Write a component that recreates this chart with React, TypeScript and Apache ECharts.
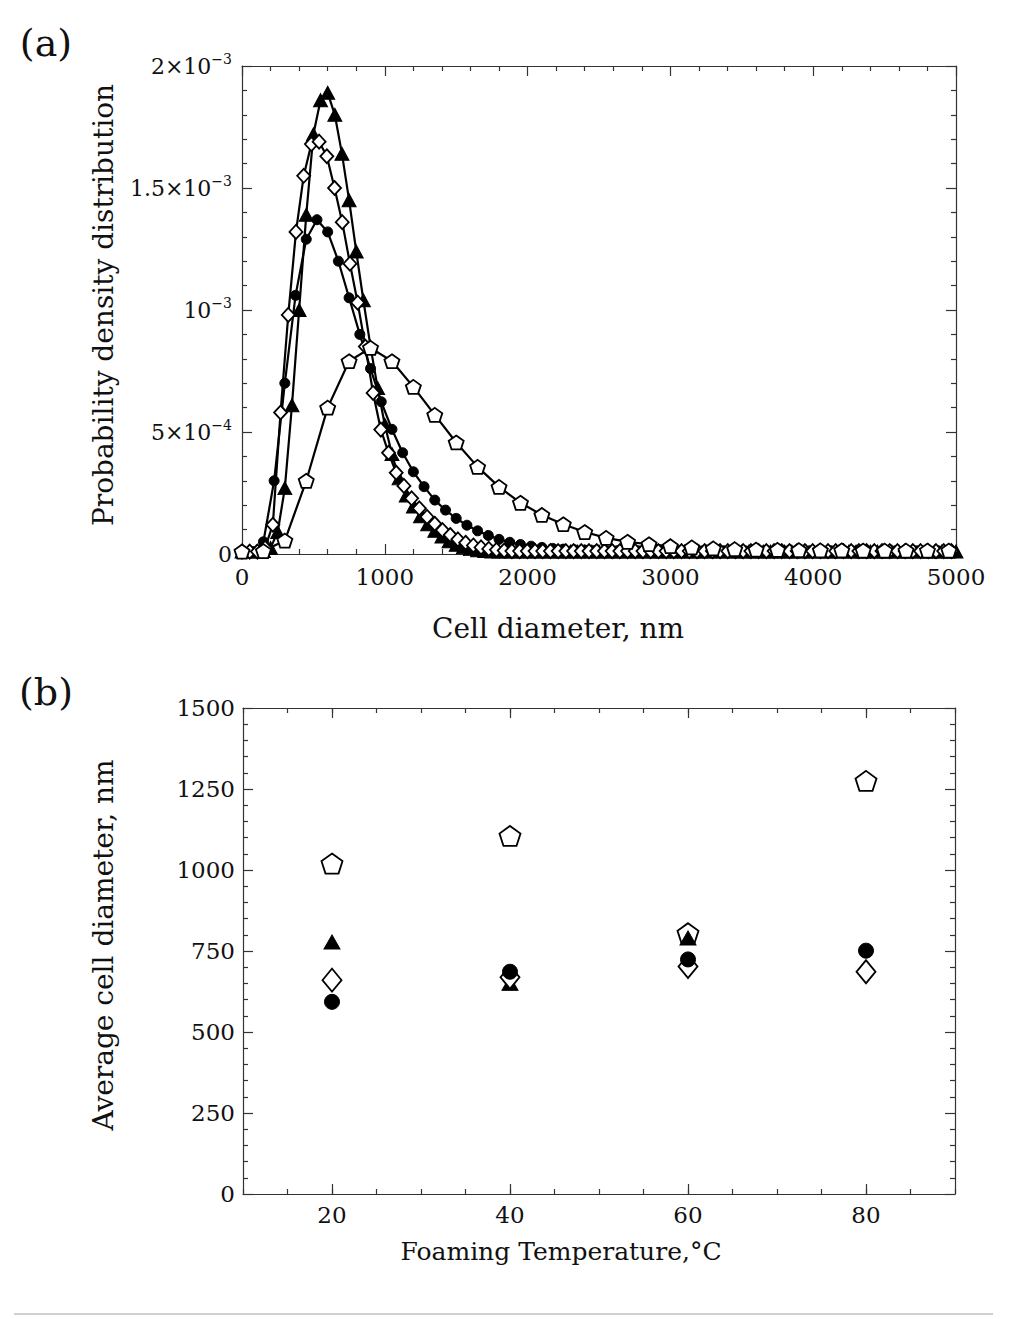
import React, { useEffect, useRef } from 'react';
import * as echarts from 'echarts';

const FONT = "'DejaVu Serif', serif";

// ---------- Panel (a): probability density, values in units of 1e-4 ----------
const triX = [0, 50, 100, 150, 200, 250, 300, 350, 400, 450, 500, 550, 600, 650, 700, 750, 800, 850, 900, 950,
  1000, 1050, 1100, 1150, 1200, 1250, 1300, 1350, 1400, 1450, 1500, 1550, 1600, 1650, 1700, 1750, 1800, 1850, 1900, 1950,
  2000, 2050, 2100, 2150, 2200, 2250, 2300, 2350, 2400, 2450, 2500, 2550, 2600, 2650, 2700, 2750, 2800, 2850, 2900, 2950,
  3000, 3050, 3100, 3150, 3200, 3250, 3300, 3350, 3400, 3450, 3500, 3550, 3600, 3650, 3700, 3750, 3800, 3850, 3900, 3950,
  4000, 4050, 4100, 4150, 4200, 4250, 4300, 4350, 4400, 4450, 4500, 4550, 4600, 4650, 4700, 4750, 4800, 4850, 4900, 4950, 5000];
const triY = [0.1, 0.1, 0.1, 0.12, 0.25, 0.9, 2.7, 6.1, 10.0, 13.9, 17.2, 18.6, 18.9, 18.0, 16.4, 14.5, 12.4, 10.4, 8.5, 6.8,
  5.3, 4.1, 3.1, 2.4, 1.95, 1.55, 1.22, 0.95, 0.72, 0.52, 0.38, 0.28, 0.2, 0.15, 0.12, 0.1, 0.1, 0.1, 0.1, 0.1,
  0.1, 0.1, 0.1, 0.1, 0.1, 0.1, 0.1, 0.1, 0.1, 0.1, 0.1, 0.1, 0.1, 0.1, 0.1, 0.1, 0.1, 0.1, 0.1, 0.1,
  0.1, 0.1, 0.1, 0.1, 0.1, 0.1, 0.1, 0.1, 0.1, 0.1, 0.1, 0.1, 0.1, 0.1, 0.1, 0.1, 0.1, 0.1, 0.1, 0.1,
  0.1, 0.1, 0.1, 0.1, 0.1, 0.1, 0.1, 0.1, 0.1, 0.1, 0.1, 0.1, 0.1, 0.1, 0.1, 0.1, 0.1, 0.1, 0.1, 0.1, 0.1];

const diaX = [0, 54, 108, 162, 216, 270, 324, 378, 432, 486, 540, 594, 648, 702, 756, 810, 864, 918, 972, 1026,
  1080, 1134, 1188, 1242, 1296, 1350, 1404, 1458, 1512, 1566, 1620, 1674, 1728, 1782, 1836, 1890, 1944, 1998, 2052, 2106,
  2160, 2214, 2268, 2322, 2376, 2430, 2484, 2538, 2592, 2646, 2700, 2754, 2808, 2862, 2916, 2970, 3024, 3078, 3132, 3186,
  3240, 3294, 3348, 3402, 3456, 3510, 3564, 3618, 3672, 3726, 3780, 3834, 3888, 3942, 3996, 4050, 4104, 4158, 4212, 4266,
  4320, 4374, 4428, 4482, 4536, 4590, 4644, 4698, 4752, 4806, 4860, 4914, 4968];
const diaY = [0.1, 0.1, 0.1, 0.25, 1.2, 5.8, 9.8, 13.2, 15.5, 16.8, 16.9, 16.3, 15.0, 13.6, 11.9, 10.3, 8.5, 6.6, 5.1, 4.15,
  3.33, 2.79, 2.28, 1.87, 1.52, 1.24, 0.98, 0.78, 0.6, 0.46, 0.35, 0.27, 0.21, 0.17, 0.14, 0.12, 0.12, 0.12, 0.12, 0.12,
  0.12, 0.12, 0.12, 0.12, 0.12, 0.12, 0.12, 0.12, 0.12, 0.12, 0.12, 0.12, 0.12, 0.12, 0.12, 0.12, 0.12, 0.12, 0.12, 0.12,
  0.12, 0.12, 0.12, 0.12, 0.12, 0.12, 0.12, 0.12, 0.12, 0.12, 0.12, 0.12, 0.12, 0.12, 0.12, 0.12, 0.12, 0.12, 0.12, 0.12,
  0.12, 0.12, 0.12, 0.12, 0.12, 0.12, 0.12, 0.12, 0.12, 0.12, 0.12, 0.12, 0.12];

const cirX = [0, 75, 150, 225, 300, 375, 450, 525, 600, 675, 750, 825, 900, 975, 1050, 1125, 1200, 1275, 1350, 1425,
  1500, 1575, 1650, 1725, 1800, 1875, 1950, 2025, 2100, 2175, 2250, 2325, 2400, 2475, 2550, 2625, 2700, 2775, 2850, 2925,
  3000, 3075, 3150, 3225, 3300, 3375, 3450, 3525, 3600, 3675, 3750, 3825, 3900, 3975, 4050, 4125, 4200, 4275, 4350, 4425,
  4500, 4575, 4650, 4725, 4800, 4875, 4950];
const cirY = [0.1, 0.1, 0.5, 3.0, 7.0, 10.6, 12.9, 13.7, 13.2, 12.0, 10.5, 9.0, 7.6, 6.24, 5.11, 4.15, 3.37, 2.76, 2.21, 1.8,
  1.46, 1.18, 0.95, 0.76, 0.6, 0.48, 0.39, 0.32, 0.27, 0.23, 0.2, 0.18, 0.16, 0.15, 0.13, 0.13, 0.13, 0.13, 0.13, 0.13,
  0.13, 0.13, 0.13, 0.13, 0.13, 0.13, 0.13, 0.13, 0.13, 0.13, 0.13, 0.13, 0.13, 0.13, 0.13, 0.13, 0.13, 0.13, 0.13, 0.13,
  0.13, 0.13, 0.13, 0.13, 0.13, 0.13, 0.13];

const penX = [0, 150, 300, 450, 600, 750, 900, 1050, 1200, 1350, 1500, 1650, 1800, 1950, 2100, 2250, 2400, 2550, 2700, 2850,
  3000, 3150, 3300, 3450, 3600, 3750, 3900, 4050, 4200, 4350, 4500, 4650, 4800, 4950];
const penY = [0.1, 0.12, 0.55, 3.0, 6.0, 7.9, 8.45, 7.9, 6.85, 5.7, 4.57, 3.57, 2.75, 2.1, 1.6, 1.22, 0.9, 0.66, 0.5, 0.4,
  0.32, 0.27, 0.23, 0.2, 0.18, 0.17, 0.16, 0.15, 0.15, 0.14, 0.14, 0.14, 0.14, 0.14];

const topYTicks = [
  { v: 0, base: '0', exp: '' },
  { v: 5, base: '5×10', exp: '−4' },
  { v: 10, base: '10', exp: '−3' },
  { v: 15, base: '1.5×10', exp: '−3' },
  { v: 20, base: '2×10', exp: '−3' },
];

// ---------- Panel (b): average cell diameter ----------
const temps = [20, 40, 60, 80];
const avgPentagon = [1020, 1105, 805, 1275];
const avgTriangle = [778, 650, 790, null];
const avgDiamond = [660, 669, 702, 686];
const avgCircle = [593, 686, 724, 751];
const bottomXLabels = [20, 40, 60, 80];

const PENTAGON = 'path://M50,0L97.55,34.55L79.39,90.45L20.61,90.45L2.45,34.55Z';

const pairs = (xs: number[], ys: (number | null)[]) => xs.map((x, i) => [x, ys[i]]);

const AX = { color: '#333', width: 1.2 };
const LABEL = { fontFamily: FONT, fontSize: 23, color: '#111', formatter: (v: number) => String(v) };

function frameX(gridIndex: number, position: 'top' | 'bottom', min: number, max: number, interval: number, minorSplit: number, labels: any) {
  return {
    type: 'value', gridIndex, position, min, max, interval,
    axisLine: { show: true, onZero: false, lineStyle: AX },
    axisTick: { show: true, inside: true, length: 10, lineStyle: AX },
    minorTick: { show: minorSplit > 0, splitNumber: minorSplit || 5, length: 5, lineStyle: AX },
    splitLine: { show: false }, minorSplitLine: { show: false },
    axisLabel: labels,
  };
}
function frameY(gridIndex: number, position: 'left' | 'right', min: number, max: number, interval: number, minorSplit: number, labels: any) {
  return {
    type: 'value', gridIndex, position, min, max, interval,
    axisLine: { show: true, onZero: false, lineStyle: AX },
    axisTick: { show: true, inside: true, length: 10, lineStyle: AX },
    minorTick: { show: true, splitNumber: minorSplit, length: 5, lineStyle: AX },
    splitLine: { show: false }, minorSplitLine: { show: false },
    axisLabel: labels,
  };
}

function lineSeries(name: string, xs: number[], ys: number[], symbol: string, size: any, filled: boolean) {
  return {
    name, type: 'line', xAxisIndex: 0, yAxisIndex: 0,
    data: pairs(xs, ys),
    symbol, symbolSize: size, showSymbol: true, showAllSymbol: true,
    lineStyle: { color: '#000', width: 2.2 },
    itemStyle: filled ? { color: '#000', borderColor: '#000', borderWidth: 1 } : { color: '#fff', borderColor: '#000', borderWidth: 1.8 },
    clip: false,
  };
}
function scatterSeries(name: string, ys: (number | null)[], symbol: string, size: any, filled: boolean) {
  return {
    name, type: 'scatter', xAxisIndex: 2, yAxisIndex: 2,
    data: pairs(temps, ys).filter((p) => p[1] !== null),
    symbol, symbolSize: size,
    itemStyle: filled ? { color: '#000', borderColor: '#000', borderWidth: 1, opacity: 1 } : { color: '#fff', borderColor: '#000', borderWidth: 1.8, opacity: 1 },
  };
}

const richY = {
  b: { fontFamily: FONT, fontSize: 22, lineHeight: 28, color: '#111' },
  s: { fontFamily: FONT, fontSize: 14, lineHeight: 12, verticalAlign: 'top', color: '#111' },
};

const TITLE = { fontFamily: FONT, fill: '#111', align: 'center', verticalAlign: 'middle' };

const option: any = {
  animation: false,
  backgroundColor: '#fff',
  grid: [
    { left: 242, top: 66, width: 714, height: 488 },
    { left: 243, top: 708, width: 712, height: 486 },
  ],
  xAxis: [
    frameX(0, 'bottom', 0, 5000, 1000, 5, { show: true, margin: 11, ...LABEL }),
    frameX(0, 'top', 0, 5000, 1000, 5, { show: false }),
    {
      ...frameX(1, 'bottom', 10, 90, 5, 0, { show: true, margin: 9, ...LABEL, customValues: bottomXLabels }),
      axisTick: { show: true, inside: true, length: 5, lineStyle: AX },
    },
    {
      ...frameX(1, 'top', 10, 90, 5, 0, { show: false }),
      axisTick: { show: true, inside: true, length: 5, lineStyle: AX },
    },
    {
      type: 'value', gridIndex: 1, position: 'bottom', min: 10, max: 90, interval: 5,
      axisLine: { show: false, onZero: false }, splitLine: { show: false },
      axisTick: { show: true, inside: true, length: 10, lineStyle: AX, customValues: bottomXLabels },
      axisLabel: { show: false },
    },
    {
      type: 'value', gridIndex: 1, position: 'top', min: 10, max: 90, interval: 5,
      axisLine: { show: false, onZero: false }, splitLine: { show: false },
      axisTick: { show: true, inside: true, length: 10, lineStyle: AX, customValues: bottomXLabels },
      axisLabel: { show: false },
    },
  ],
  yAxis: [
    frameY(0, 'left', 0, 20, 5, 5, {
      show: true, margin: 10, rich: richY,
      formatter: (v: number) => {
        const t = topYTicks.find((k) => Math.abs(k.v - v) < 1e-6);
        if (!t) return '';
        return t.exp ? `{b|${t.base}}{s|${t.exp}}` : `{b|${t.base}}`;
      },
    }),
    frameY(0, 'right', 0, 20, 5, 5, { show: false }),
    frameY(1, 'left', 0, 1500, 250, 5, { show: true, margin: 8, ...LABEL }),
    frameY(1, 'right', 0, 1500, 250, 5, { show: false }),
  ],
  series: [
    lineSeries('triangle', triX, triY, 'triangle', [14, 13], true),
    lineSeries('circle', cirX, cirY, 'circle', 10, true),
    lineSeries('diamond', diaX, diaY, 'diamond', [13, 14], false),
    lineSeries('pentagon', penX, penY, PENTAGON, [15, 14], false),
    scatterSeries('pentagon', avgPentagon, PENTAGON, [21, 20], false),
    scatterSeries('triangle', avgTriangle, 'triangle', [16, 14], true),
    scatterSeries('diamond', avgDiamond, 'diamond', [19, 23], false),
    scatterSeries('circle', avgCircle, 'circle', 15, true),
  ],
  graphic: [
    { type: 'text', x: 46, y: 43, style: { ...TITLE, text: '(a)', fontSize: 38 } },
    { type: 'text', x: 46, y: 692, style: { ...TITLE, text: '(b)', fontSize: 38 } },
    { type: 'text', x: 558, y: 628, style: { ...TITLE, text: 'Cell diameter, nm', fontSize: 28 } },
    { type: 'text', x: 561, y: 1251, style: { ...TITLE, text: 'Foaming Temperature,°C', fontSize: 25 } },
    { type: 'text', x: 103, y: 305, rotation: Math.PI / 2, style: { ...TITLE, text: 'Probability density distribution', fontSize: 28 } },
    { type: 'text', x: 103, y: 945, rotation: Math.PI / 2, style: { ...TITLE, text: 'Average cell diameter, nm', fontSize: 28 } },
    { type: 'line', shape: { x1: 14, y1: 1314, x2: 993, y2: 1314 }, style: { stroke: '#d0d0d0', lineWidth: 2 } },
  ],
};

export default function App() {
  const ref = useRef<HTMLDivElement>(null);
  useEffect(() => {
    if (!ref.current) return;
    const chart = echarts.init(ref.current, null, { renderer: 'svg' });
    chart.setOption(option);
    return () => chart.dispose();
  }, []);
  return (
    <div
      ref={ref}
      style={{ position: 'absolute', left: 0, top: 0, width: 1010, height: 1319, background: '#fff' }}
    />
  );
}
